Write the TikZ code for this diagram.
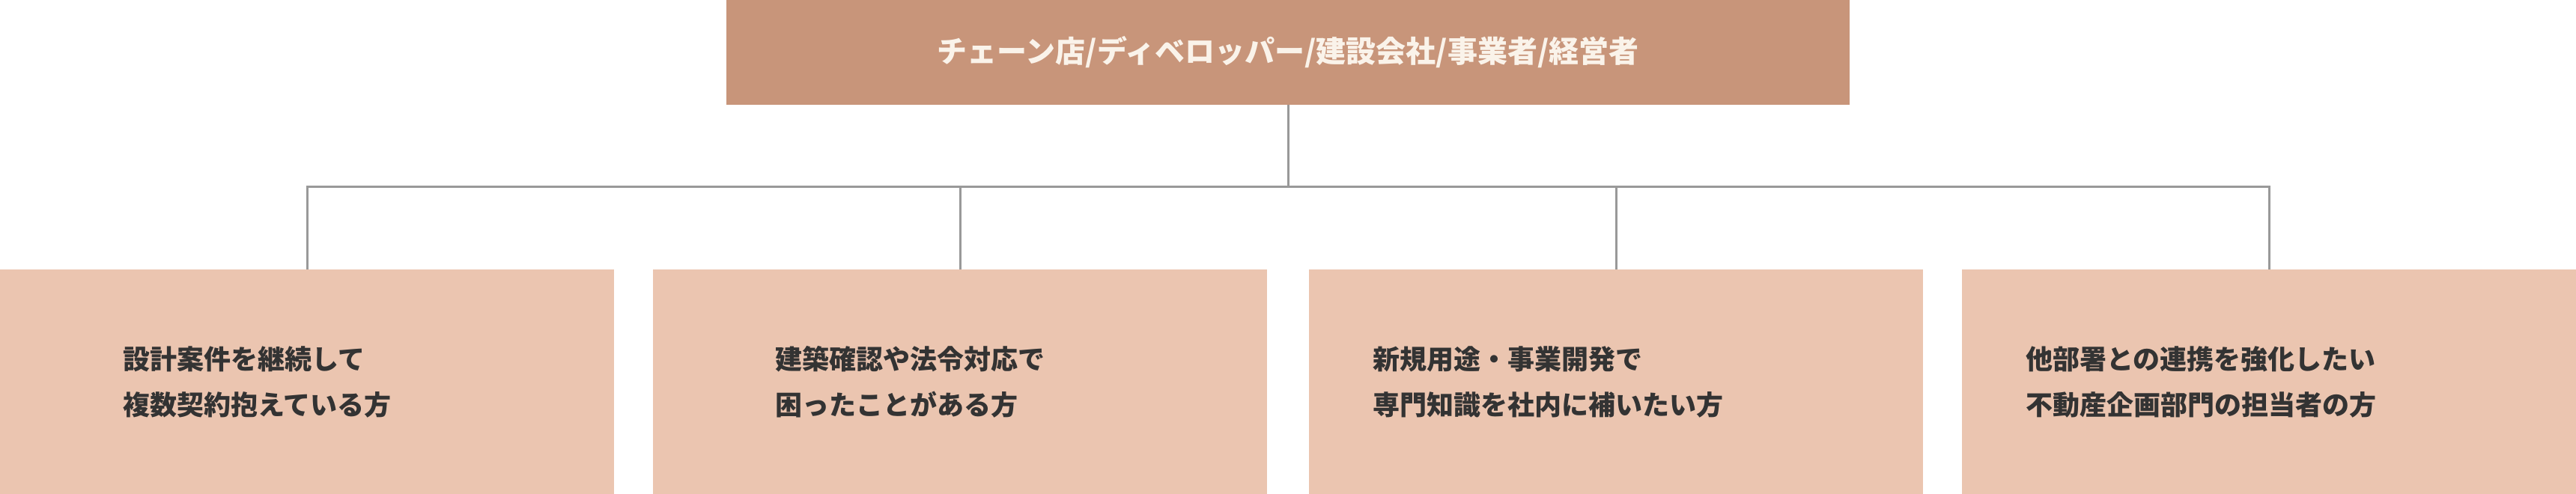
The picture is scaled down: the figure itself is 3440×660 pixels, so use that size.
\documentclass[tikz,border=0pt]{standalone}
\usepackage{fontspec}
\usepackage{xcolor}
\usetikzlibrary{positioning}
\setmainfont{Noto Sans CJK JP}

\definecolor{ownerfill}{HTML}{C8957A}
\definecolor{userfill}{HTML}{EBC5B0}
\definecolor{linkgray}{HTML}{999999}
\definecolor{textdark}{HTML}{333333}
\definecolor{textcream}{HTML}{FAF3EA}

\tikzset{
  ownerbox/.style={fill=ownerfill, text=textcream, minimum width=1500pt, minimum height=140pt,
    inner sep=0pt, outer sep=0pt, font=\bfseries\fontsize{40}{40}\selectfont},
  userbox/.style={fill=userfill, minimum width=820pt, minimum height=300pt, inner sep=0pt, outer sep=0pt},
  usertext/.style={text=textdark, align=left, inner sep=0pt, font=\bfseries\fontsize{36}{61}\selectfont},
  link/.style={draw=linkgray, line width=3pt}
}

\begin{document}
\begin{tikzpicture}[x=1pt, y=-1pt]
\useasboundingbox (0,0) rectangle (3440,660);

% top box
\node[ownerbox] (owner) at (1720,70) {チェーン店/ディベロッパー/建設会社/事業者/経営者};

% bottom boxes
\node[userbox] (user1) at (410,510) {};
\node[userbox] (user2) at (1282,510) {};
\node[userbox] (user3) at (2158,510) {};
\node[userbox] (user4) at (3030,510) {};

% texts in the boxes
\node[usertext, right=164pt of user1.west] (text1) {設計案件を継続して\\複数契約抱えている方};
\node[usertext, right=163pt of user2.west] (text2) {建築確認や法令対応で\\困ったことがある方};
\node[usertext, right=85pt of user3.west] (text3) {新規用途・事業開発で\\専門知識を社内に補いたい方};
\node[usertext, right=85pt of user4.west] (text4) {他部署との連携を強化したい\\不動産企画部門の担当者の方};

% connectors
\coordinate (bus) at (1720,250);
\draw[link] (owner.south) -- (bus);
\draw[link] (user1.north) |- (user4.north |- bus) -- (user4.north);
\draw[link] (user2.north) -- (user2.north |- bus);
\draw[link] (user3.north) -- (user3.north |- bus);

\end{tikzpicture}
\end{document}
